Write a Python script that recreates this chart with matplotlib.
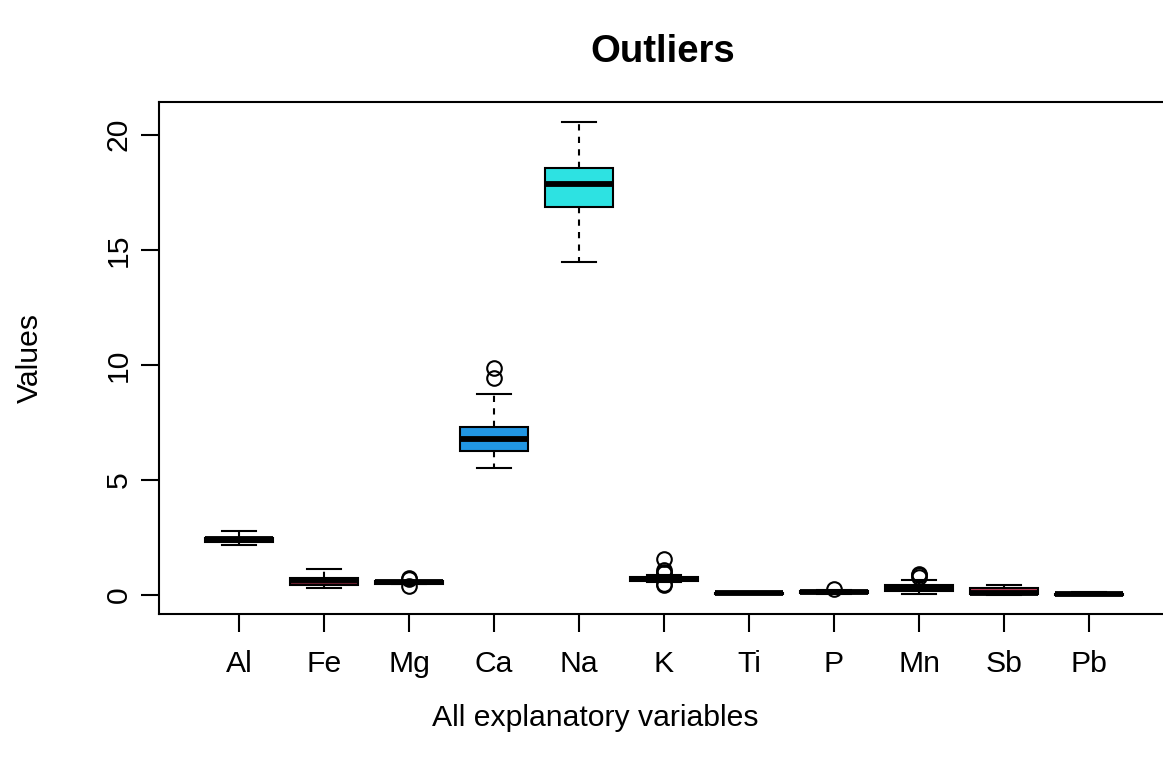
import matplotlib.pyplot as plt

plt.rcParams['font.family'] = ['Liberation Sans', 'DejaVu Sans']

# values
variables = ['Al', 'Fe', 'Mg', 'Ca', 'Na', 'K', 'Ti', 'P', 'Mn', 'Sb', 'Pb']
whislo = [2.16, 0.32, 0.47, 5.52, 14.48, 0.56, 0.03, 0.05, 0.07, 0.00, 0.00]
q1 = [2.30, 0.42, 0.49, 6.26, 16.87, 0.60, 0.06, 0.08, 0.18, 0.03, 0.00]
med = [2.42, 0.66, 0.55, 6.76, 17.87, 0.70, 0.08, 0.12, 0.33, 0.10, 0.03]
q3 = [2.50, 0.76, 0.60, 7.30, 18.57, 0.79, 0.11, 0.17, 0.46, 0.32, 0.07]
whishi = [2.77, 1.12, 0.63, 8.74, 20.57, 0.86, 0.14, 0.21, 0.65, 0.46, 0.12]
outliers = [[], [], [0.73, 0.68, 0.38], [9.87, 9.45], [],
            [1.57, 1.08, 1.02, 0.95, 0.48, 0.44], [], [0.26],
            [0.93, 0.86, 0.78], [], []]
fill_colors = ['#1f1f1f', '#6b1e2e', '#1f1f1f', '#2196e3', '#2de2e2', '#1f1f1f',
               '#1f1f1f', '#1f1f1f', '#1f1f1f', '#c0405a', '#1f1f1f']

stats = []
for i, name in enumerate(variables):
    stats.append(dict(label=name, whislo=whislo[i], q1=q1[i], med=med[i],
                      q3=q3[i], whishi=whishi[i], fliers=outliers[i]))

fig = plt.figure(figsize=(11.63, 7.68), dpi=100)
ax = fig.add_axes([159 / 1163, (768 - 614) / 768, (1169 - 159) / 1163, (614 - 102) / 768])

lw = 1.5
bp = ax.bxp(stats, positions=range(1, len(variables) + 1), widths=0.8,
            patch_artist=True, showfliers=True,
            boxprops=dict(linewidth=lw, edgecolor='black'),
            medianprops=dict(color='black', linewidth=4.2, solid_capstyle='butt'),
            whiskerprops=dict(color='black', linewidth=lw, linestyle=(0, (3, 3))),
            capprops=dict(color='black', linewidth=lw),
            flierprops=dict(marker='o', markersize=10.5, markerfacecolor='none',
                            markeredgecolor='black', markeredgewidth=lw))
for box, c in zip(bp['boxes'], fill_colors):
    box.set_facecolor(c)
for cap in bp['caps']:
    x = cap.get_xdata()
    mid = (x[0] + x[1]) / 2
    cap.set_xdata([mid - 0.2, mid + 0.2])

ax.set_xlim(0.06, 11.94)
ax.set_ylim(-0.82, 21.42)
ax.set_yticks([0, 5, 10, 15, 20])
ax.set_yticklabels(['0', '5', '10', '15', '20'], rotation=90, va='center')
ax.tick_params(axis='both', labelsize=21.7, length=13, width=lw, direction='out')
ax.tick_params(axis='x', pad=13)
ax.tick_params(axis='y', pad=6)
for s in ax.spines.values():
    s.set_linewidth(lw)

fig.text(663 / 1163, 1 - 52 / 768, 'Outliers', fontsize=27.5, fontweight='bold',
         ha='center', va='center')
fig.text(595 / 1163, 1 - 718 / 768, 'All explanatory variables', fontsize=21.7,
         ha='center', va='center')
fig.text(30 / 1163, 1 - 358 / 768, 'Values', fontsize=21.7, rotation=90,
         ha='center', va='center')

fig.savefig('out.png', dpi=100)
